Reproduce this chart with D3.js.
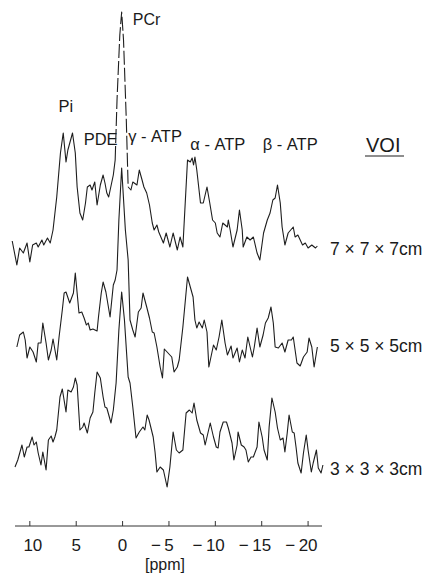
<!DOCTYPE html>
<html>
<head>
<meta charset="utf-8">
<script src="https://cdn.jsdelivr.net/npm/d3@7"></script>
<style>
  body { margin: 0; background: #fff; }
  text { font-family: Arial, "Liberation Sans", Helvetica, sans-serif; fill: #1a1a1a; }
</style>
</head>
<body>
<svg></svg>
<script>
// chemical shift [ppm], amplitude [a.u.]
const spectrum7 = [
    [11.9, 4], [11.4, -20], [11.1, -3], [10.7, -8], [10.3, 2], [10.0, -17], [9.7, 0], [9.3, 2],
    [9.1, -2], [8.7, 5], [8.5, 0], [8.1, 7], [7.8, 2], [7.5, 15], [7.1, 48], [6.7, 92],
    [6.4, 112], [6.1, 83], [5.9, 95], [5.4, 112], [5.1, 92], [4.9, 58], [4.6, 32], [4.3, 25],
    [4.0, 42], [3.8, 58], [3.5, 60], [3.3, 55], [3.0, 63], [2.75, 40], [2.4, 60], [2.1, 70],
    [1.9, 62], [1.7, 52], [1.5, 48], [1.0, 70], [0.8, 85], [0.6, 145], [0.3, 210], [0.1, 233],
    [-0.1, 205], [-0.4, 125], [-0.6, 58], [-0.9, 55], [-1.1, 63], [-1.55, 60], [-1.8, 75], [-2.1, 65],
    [-2.3, 58], [-2.6, 52], [-2.9, 40], [-3.2, 22], [-3.4, 15], [-3.7, 20], [-3.9, 13], [-4.4, 2],
    [-4.7, 12], [-5.1, -2], [-5.45, 12], [-5.9, -5], [-6.2, 8], [-6.5, -2], [-7.0, 85], [-7.3, 83],
    [-7.5, 87], [-7.65, 80], [-7.8, 88], [-8.0, 75], [-8.4, 42], [-8.7, 42], [-9.1, 58], [-9.4, 42],
    [-9.7, 25], [-10.0, 22], [-10.2, 12], [-10.5, 8], [-10.8, 22], [-11.3, 18], [-11.4, 25], [-11.6, 15],
    [-11.9, -2], [-12.35, 15], [-12.6, 35], [-12.9, 15], [-13.0, -2], [-13.4, 8], [-13.75, 5], [-14.1, 8],
    [-14.5, -8], [-14.8, -15], [-15.2, 12], [-15.6, 25], [-15.9, 32], [-16.2, 45], [-16.45, 47], [-16.7, 60],
    [-17.0, 42], [-17.2, 18], [-17.5, 0], [-17.85, 12], [-18.4, 18], [-18.6, 8], [-18.9, 10], [-19.4, 0],
    [-19.7, 2], [-20.0, -3], [-20.4, 0], [-20.8, -3], [-21.0, -1]
];

const spectrum5 = [
    [11.4, 3], [11.1, 15], [10.7, 18], [10.5, 10], [10.3, -8], [10.0, 3], [9.65, -2], [9.3, -12],
    [9.1, 7], [8.8, 7], [8.6, 27], [8.25, 7], [8.0, -10], [7.7, 0], [7.5, 11], [7.1, -10],
    [6.85, 13], [6.5, 40], [6.3, 57], [6.1, 58], [5.7, 47], [5.3, 57], [5.1, 77], [4.9, 57],
    [4.7, 37], [4.4, 38], [4.15, 32], [3.9, 25], [3.7, 27], [3.5, 20], [3.2, 21], [2.75, 19],
    [2.6, 33], [2.3, 57], [2.1, 68], [1.8, 58], [1.35, 33], [1.0, 65], [0.8, 70], [0.6, 80],
    [0.4, 130], [0.1, 182], [-0.3, 120], [-0.6, 90], [-0.8, 30], [-1.1, 20], [-1.35, 13], [-1.7, 38],
    [-2.0, 42], [-2.2, 57], [-2.6, 43], [-2.9, 32], [-3.2, 18], [-3.4, 17], [-3.7, 3], [-4.05, -17],
    [-4.3, -28], [-4.5, 1], [-4.8, -2], [-5.3, -7], [-5.55, -22], [-5.9, -17], [-6.1, -10], [-6.5, 23],
    [-7.0, 73], [-7.3, 63], [-7.6, 53], [-7.8, 30], [-8.0, 22], [-8.25, 28], [-8.6, 22], [-8.8, 30],
    [-9.1, 18], [-9.3, -17], [-9.8, 5], [-10.1, 0], [-10.4, 13], [-10.7, 30], [-11.05, 7], [-11.3, -5],
    [-11.7, 4], [-11.9, -8], [-12.35, 2], [-12.6, -12], [-12.9, 0], [-13.2, -8], [-13.5, 13], [-14.0, -7],
    [-14.2, 3], [-14.5, 22], [-14.8, 3], [-15.15, 15], [-15.4, 27], [-15.7, 32], [-16.0, 43], [-16.25, 27],
    [-16.45, 3], [-16.8, 2], [-17.2, 7], [-17.5, -2], [-17.85, 10], [-18.2, 10], [-18.4, 13], [-18.8, -13],
    [-19.15, -16], [-19.5, -7], [-19.9, -2], [-20.1, 12], [-20.4, 3], [-20.65, -17], [-21.0, 3]
];

const spectrum3 = [
    [11.6, -12], [11.3, -5], [10.85, 10], [10.6, -2], [10.3, 8], [10.1, 8], [9.75, 18], [9.55, 10],
    [9.3, 13], [9.1, 2], [8.8, -10], [8.6, 3], [8.25, -15], [8.0, 15], [7.7, 19], [7.5, 13],
    [7.3, 18], [7.1, 25], [6.75, 58], [6.5, 66], [6.1, 43], [5.9, 65], [5.55, 63], [5.3, 68],
    [5.1, 77], [4.9, 70], [4.6, 25], [4.3, 28], [4.15, 32], [3.8, 22], [3.5, 37], [3.2, 43],
    [3.0, 62], [2.75, 83], [2.4, 77], [2.1, 58], [1.9, 48], [1.7, 47], [1.25, 32], [1.0, 45],
    [0.7, 72], [0.4, 125], [0.1, 163], [-0.2, 135], [-0.6, 78], [-0.8, 72], [-1.1, 48], [-1.45, 17],
    [-1.8, 23], [-2.2, 28], [-2.4, 25], [-2.65, 40], [-2.85, 35], [-3.3, 18], [-3.5, 3], [-3.7, -17],
    [-4.05, -12], [-4.4, -15], [-4.8, -32], [-5.1, -12], [-5.45, 23], [-5.8, 5], [-6.1, 2], [-6.5, 5],
    [-6.85, 42], [-7.2, 45], [-7.5, 42], [-7.7, 52], [-8.0, 35], [-8.4, 22], [-8.7, 20], [-8.9, 10],
    [-9.1, 18], [-9.45, 32], [-9.8, 18], [-10.1, 8], [-10.3, 7], [-10.5, 23], [-10.85, 33], [-11.2, 33],
    [-11.4, 27], [-11.8, 12], [-12.0, -5], [-12.35, 10], [-12.45, 23], [-12.8, 10], [-13.1, 8], [-13.3, 5],
    [-13.55, -7], [-13.85, -2], [-14.1, -2], [-14.5, 8], [-14.7, 33], [-15.05, 18], [-15.25, 5], [-15.6, -5],
    [-15.8, 28], [-16.1, 57], [-16.45, 43], [-16.7, 27], [-17.0, 15], [-17.3, 17], [-17.5, 3], [-17.75, 22],
    [-17.95, 40], [-18.3, 23], [-18.5, 22], [-18.7, 8], [-18.9, -8], [-19.25, -18], [-19.5, 2], [-19.8, 20],
    [-20.0, 5], [-20.35, -17], [-20.55, -8], [-20.9, 5], [-21.1, -13], [-21.4, -18], [-21.6, -10]
];

const voiLabels = ["7 \u00d7 7 \u00d7 7cm", "5 \u00d7 5 \u00d7 5cm", "3 \u00d7 3 \u00d7 3cm"];
const stackOffsets = [285, 180, 75];
const labelAmplitude = [-10, -2, -20];
const tickValues = [10, 5, 0, -5, -10, -15, -20];
const peakNames = ["Pi", "PDE", "\u03b3 - ATP", "\u03b1 - ATP", "\u03b2 - ATP"];
const peakPpm = [6.9, 4.2, -0.6, -7.3, -15.1];
const peakHeight = [418, 385, 388, 380, 380];

let svg = d3.select("svg").attr("width", 425).attr("height", 576);

let x = d3.scaleLinear().domain([11.6, -21.5]).range([15, 322]);
let y = d3.scaleLinear().domain([0, 520]).range([530, 10]);

let line = (offset) => d3.line()
    .x((d) => x(d[0]))
    .y((d) => y(d[1] + offset));

function Trace_Draw(data, offset, dashedPeak) {
    let g = svg.append("g")
        .style("fill", "none")
        .style("stroke", "#1e1e1e")
        .style("stroke-width", 1.1)
        .style("stroke-linejoin", "round");

    if (!dashedPeak) {
        g.append("path").attr("d", line(offset)(data));
        return g;
    }
    // the tall PCr flanks look broken in the scan
    let left = data.filter((d) => d[0] >= 0.8);
    let mid = data.filter((d) => d[0] <= 0.8 && d[0] >= -0.6);
    let right = data.filter((d) => d[0] <= -0.6);
    g.append("path").attr("d", line(offset)(left));
    g.append("path").attr("d", line(offset)(right));
    g.append("path").attr("d", line(offset)(mid)).style("stroke-dasharray", "14 3");
    return g;
}

Trace_Draw(spectrum7, stackOffsets[0], true);
Trace_Draw(spectrum5, stackOffsets[1], false);
Trace_Draw(spectrum3, stackOffsets[2], false);

// VOI labels at the right end of each trace
svg.selectAll(".voi")
    .data(voiLabels)
    .enter()
    .append("text")
    .attr("x", 330)
    .attr("y", (d, i) => y(stackOffsets[i] + labelAmplitude[i]))
    .style("font-size", "17.5px")
    .text((d) => d);

svg.append("text")
    .attr("x", 366)
    .attr("y", 152)
    .style("font-size", "20px")
    .text("VOI");
svg.append("line")
    .attr("x1", 365).attr("x2", 404)
    .attr("y1", 156).attr("y2", 156)
    .style("stroke", "#1e1e1e")
    .style("stroke-width", 1.2);

// peak names
svg.append("text")
    .attr("x", x(-1.1))
    .attr("y", 25)
    .style("font-size", "16px")
    .text("PCr");

svg.selectAll(".peak")
    .data(peakNames)
    .enter()
    .append("text")
    .attr("x", (d, i) => x(peakPpm[i]))
    .attr("y", (d, i) => y(peakHeight[i]))
    .style("font-size", "16.5px")
    .text((d) => d);

// ppm axis
let axis = svg.append("g").attr("transform", "translate(0, 526)");
axis.append("line")
    .attr("x1", 15).attr("x2", 322)
    .style("stroke", "#333")
    .style("stroke-width", 1);
axis.selectAll(".tick")
    .data(tickValues)
    .enter()
    .append("line")
    .attr("x1", (d) => x(d)).attr("x2", (d) => x(d))
    .attr("y1", 0).attr("y2", -5)
    .style("stroke", "#333");
axis.selectAll(".num")
    .data(tickValues)
    .enter()
    .append("text")
    .attr("x", (d) => x(d) + (d === 10 ? 3 : 0))
    .attr("y", 25)
    .attr("text-anchor", "middle")
    .style("font-size", "17px")
    .text((d) => Math.abs(d));
axis.selectAll(".minus")
    .data(tickValues.filter((d) => d < 0))
    .enter()
    .append("text")
    .attr("x", (d) => x(d) - (Math.abs(d) >= 10 ? 13 : 8))
    .attr("y", 25)
    .attr("text-anchor", "end")
    .style("font-size", "17px")
    .text("\u2212");
axis.append("text")
    .attr("x", 165)
    .attr("y", 44)
    .attr("text-anchor", "middle")
    .style("font-size", "16px")
    .text("[ppm]");
</script>
</body>
</html>
